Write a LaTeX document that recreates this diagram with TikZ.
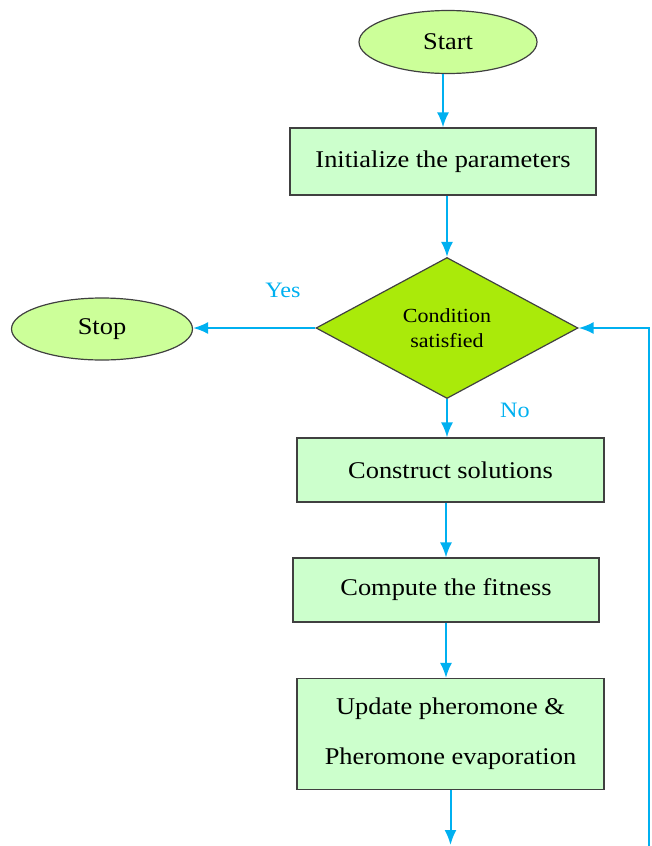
\documentclass[tikz,border=0pt]{standalone}
\usepackage{fontspec}
\setmainfont{Liberation Serif}[FakeStretch=1.1]
\usetikzlibrary{shapes.geometric,arrows.meta}
\definecolor{ovalgreen}{RGB}{204,255,153}
\definecolor{boxgreen}{RGB}{204,255,204}
\definecolor{diamgreen}{RGB}{170,234,10}
\definecolor{flowblue}{RGB}{0,176,240}

\begin{document}
\begin{tikzpicture}[x=1pt,y=-1pt,
  terminal/.style={ellipse,draw=black!75,line width=1.2pt,fill=ovalgreen,inner sep=0pt,font=\fontsize{24}{28}\selectfont},
  process/.style={rectangle,draw=black!75,line width=1.2pt,fill=boxgreen,inner sep=0pt,minimum width=306pt,font=\fontsize{24}{28}\selectfont},
  decision/.style={diamond,draw=black!75,line width=1.2pt,fill=diamgreen,inner sep=0pt,minimum width=262pt,minimum height=141pt,align=center,font=\fontsize{20}{25}\selectfont},
  flow/.style={draw=flowblue,line width=2pt,-{Latex[length=15pt,width=12pt]}},
  answer/.style={text=flowblue,font=\fontsize{22}{26}\selectfont}]
\useasboundingbox (0,0) rectangle (652,846);

\node[terminal,minimum width=178pt,minimum height=63pt] (start) at (448,42) {Start};
\node[process,minimum height=67pt] (init) at (443,161.5) {Initialize the parameters};
\node[decision] (cond) at (447,328) {Condition\\satisfied};
\node[terminal,minimum width=181pt,minimum height=62pt] (stop) at (102,329) {Stop};
\node[process,minimum width=307pt,minimum height=64pt] (cons) at (450.5,470) {Construct solutions};
\node[process,minimum height=64pt] (comp) at (446,590) {Compute the fitness};
\node[process,minimum width=307pt,minimum height=111pt,align=center,font=\fontsize{24}{50}\selectfont] (upd) at (450.5,734) {Update pheromone \&\\Pheromone evaporation};

\node[answer] (yes) at (283,290) {Yes};
\node[answer] (no) at (515,410) {No};

\coordinate (down) at (450,845);
\coordinate (back) at (649,846);

\draw[flow] (start.south -| init.north) -- (init.north);
\draw[flow] (cond.north |- init.south) -- (cond.north);
\draw[flow] (cond.west) -- (cond.west -| stop.east);
\draw[flow] (cond.south) -- (cond.south |- cons.north);
\draw[flow] (comp.north |- cons.south) -- (comp.north);
\draw[flow] (comp.south) -- (comp.south |- upd.north);
\draw[flow] (upd.south) -- (upd.south |- down);
\draw[flow] (back) |- (cond.east);
\end{tikzpicture}
\end{document}
